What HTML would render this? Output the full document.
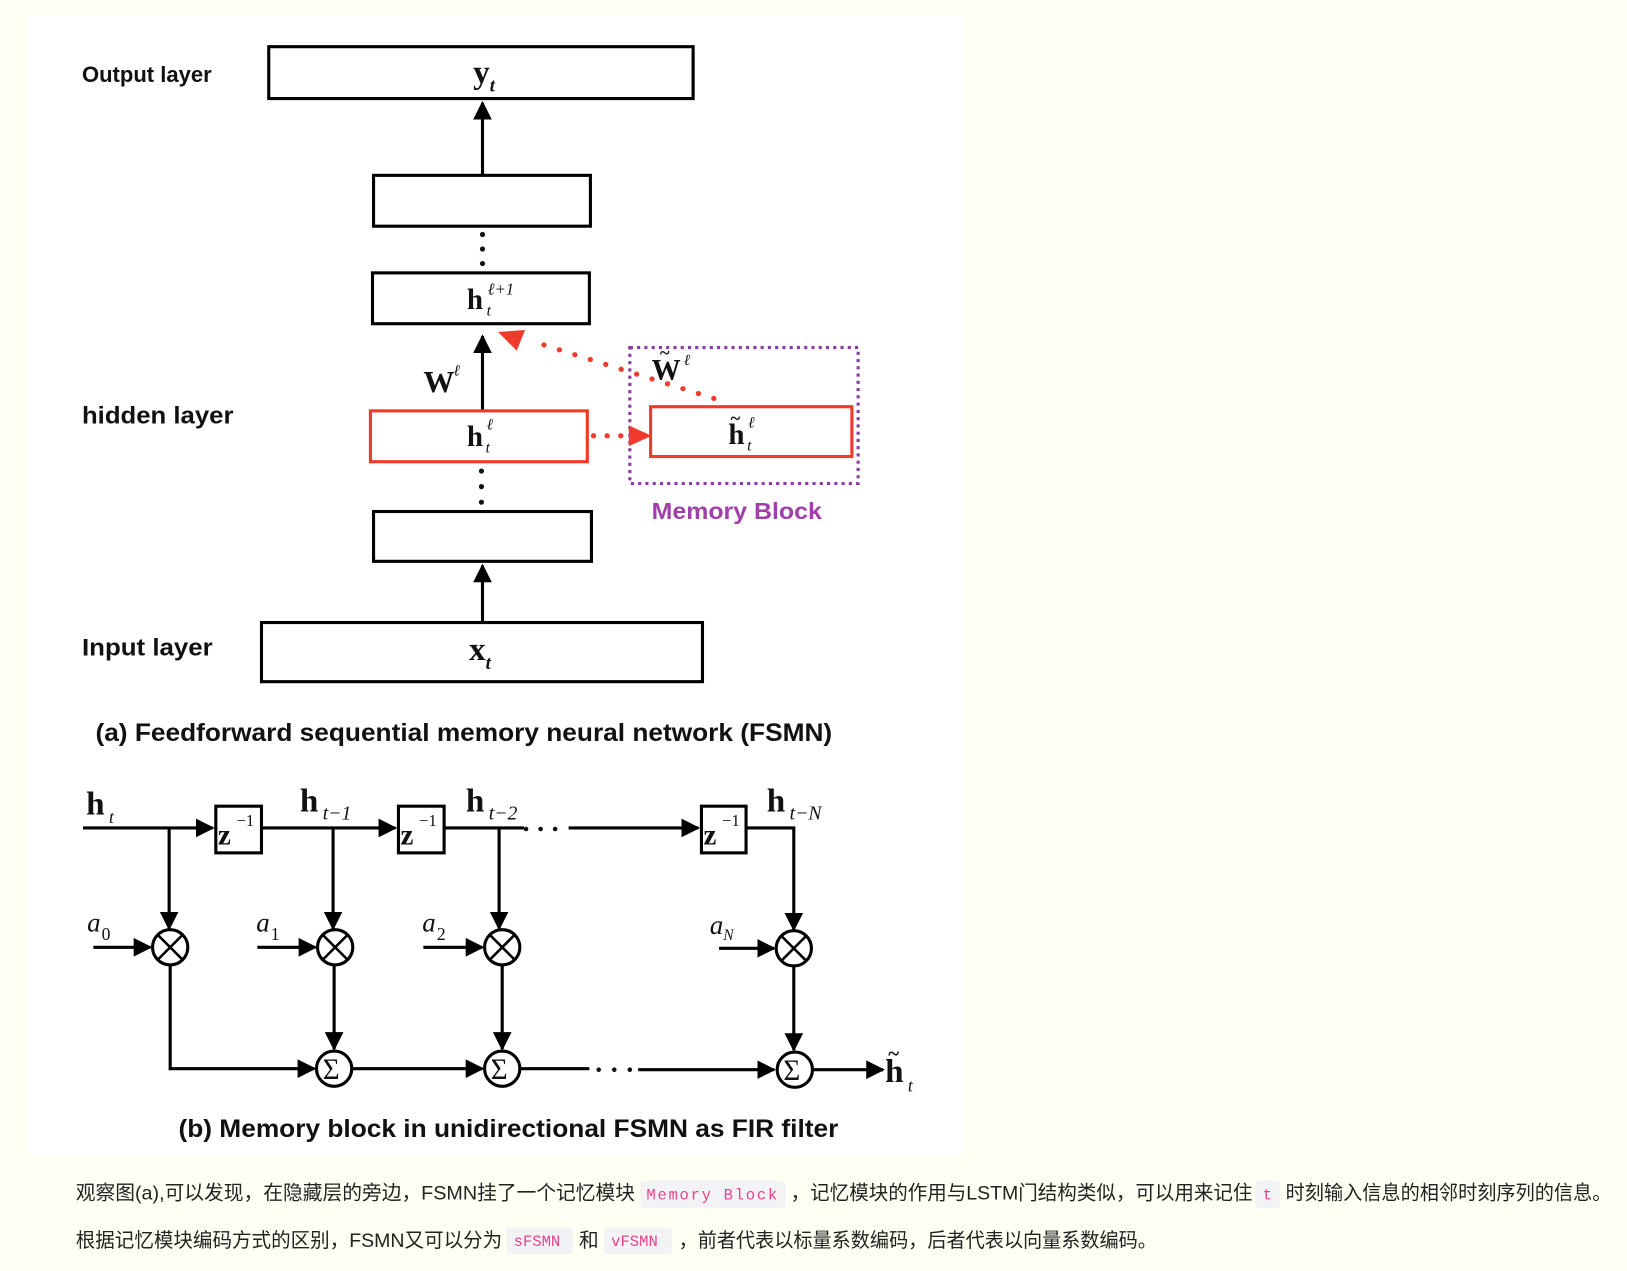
<!DOCTYPE html>
<html><head><meta charset="utf-8">
<style>
html,body{margin:0;padding:0;background:#fffff3;}
svg{display:block;}
.s{font-family:"Liberation Sans",sans-serif;font-weight:bold;fill:#111;}
.m{font-family:"Liberation Serif",serif;font-weight:bold;fill:#111;}
.i{font-family:"Liberation Serif",serif;font-style:italic;fill:#111;}
.c{font-family:"Liberation Sans","Noto Sans CJK SC",sans-serif;font-size:19px;fill:#222;}
.code{font-family:"Liberation Mono",monospace;font-size:15px;fill:#e8438c;}
</style></head><body>
<svg width="1627" height="1271" viewBox="0 0 1568 1225" preserveAspectRatio="none" xmlns="http://www.w3.org/2000/svg">
<defs>
<marker id="a" viewBox="0 0 10 10" refX="9" refY="5" markerWidth="6" markerHeight="6" orient="auto"><path d="M0,0 L10,5 L0,10 z" fill="#000"/></marker>
</defs>
<rect x="0" y="0" width="1568" height="1225" fill="#fffff3"/>
<rect x="27" y="15" width="901" height="1097" fill="#fff"/>
<g stroke="#000" stroke-width="3" fill="none">
<rect x="259" y="45" width="409" height="50"/>
<rect x="360" y="169" width="209" height="49"/>
<rect x="359" y="263" width="209" height="49"/>
<rect x="360" y="493" width="210" height="48"/>
<rect x="252" y="600" width="425" height="57"/>
<line x1="465" y1="168" x2="465" y2="99" marker-end="url(#a)"/>
<line x1="465" y1="395" x2="465" y2="324" marker-end="url(#a)"/>
<line x1="465" y1="600" x2="465" y2="545" marker-end="url(#a)"/>
</g>
<g fill="#111"><circle cx="465" cy="226" r="2.5"/><circle cx="465" cy="240" r="2.5"/><circle cx="465" cy="254" r="2.5"/>
<circle cx="464" cy="454" r="2.5"/><circle cx="464" cy="469" r="2.5"/><circle cx="464" cy="484" r="2.5"/></g>
<rect x="357" y="396" width="209" height="49" fill="none" stroke="#f03a2a" stroke-width="3"/>
<rect x="627" y="392" width="194" height="48" fill="none" stroke="#f03a2a" stroke-width="3"/>
<rect x="607" y="335" width="220" height="131" fill="none" stroke="#8a3aa0" stroke-width="3" stroke-dasharray="3,4"/>
<line x1="572" y1="420" x2="600" y2="420" stroke="#f03a2a" stroke-width="5" stroke-dasharray="0.1,13" stroke-linecap="round"/>
<path d="M606,410 L628,420 L606,430 z" fill="#f03a2a"/>
<line x1="688" y1="384" x2="510" y2="328" stroke="#f03a2a" stroke-width="5" stroke-dasharray="0.1,15.5" stroke-linecap="round"/>
<path d="M480,320 L506,318 L498,338 z" fill="#f03a2a"/>
<text class="s" x="79" y="79" font-size="21" textLength="125" lengthAdjust="spacingAndGlyphs">Output layer</text>
<text class="s" x="79" y="408" font-size="23" textLength="146" lengthAdjust="spacingAndGlyphs">hidden layer</text>
<text class="s" x="79" y="632" font-size="23" textLength="126" lengthAdjust="spacingAndGlyphs">Input layer</text>
<text class="s" x="628" y="500" font-size="22" style="fill:#a040a8" textLength="164" lengthAdjust="spacingAndGlyphs">Memory  Block</text>
<text class="m" x="456" y="80" font-size="32">y<tspan class="i" font-size="18" dy="8">t</tspan></text>
<text class="m" x="450" y="298" font-size="28">h</text><text class="i" x="470" y="284" font-size="16">ℓ+1</text><text class="i" x="469" y="304" font-size="15">t</text>
<text class="m" x="408" y="378" font-size="30">W</text><text class="i" x="437" y="362" font-size="15">ℓ</text>
<text class="m" x="450" y="430" font-size="28">h</text><text class="i" x="469" y="414" font-size="15">ℓ</text><text class="i" x="468" y="436" font-size="15">t</text>
<text class="m" x="702" y="428" font-size="28">h</text><text class="m" x="704" y="409" font-size="18">~</text><text class="i" x="721" y="412" font-size="15">ℓ</text><text class="i" x="720" y="434" font-size="15">t</text>
<text class="m" x="628" y="366" font-size="28">W</text><text class="m" x="636" y="346" font-size="18">~</text><text class="i" x="659" y="352" font-size="15">ℓ</text>
<text class="m" x="452" y="636" font-size="32">x<tspan class="i" font-size="18" dy="9">t</tspan></text>
<text class="s" x="92" y="714" font-size="24" textLength="710" lengthAdjust="spacingAndGlyphs">(a)  Feedforward sequential memory neural network (FSMN)</text>
<g stroke="#000" stroke-width="3" fill="none">
<line x1="80" y1="798" x2="205" y2="798" marker-end="url(#a)"/>
<rect x="208" y="777" width="44" height="45"/>
<line x1="252" y1="798" x2="381" y2="798" marker-end="url(#a)"/>
<rect x="384" y="777" width="44" height="45"/>
<line x1="428" y1="798" x2="505" y2="798"/>
<line x1="548" y1="798" x2="673" y2="798" marker-end="url(#a)"/>
<rect x="676" y="777" width="43" height="45"/>
<polyline points="719,798 765,798 765,896" marker-end="url(#a)"/>
<line x1="163" y1="798" x2="163" y2="895" marker-end="url(#a)"/>
<line x1="321" y1="798" x2="321" y2="895" marker-end="url(#a)"/>
<line x1="481" y1="798" x2="481" y2="895" marker-end="url(#a)"/>
<line x1="90" y1="913" x2="145" y2="913" marker-end="url(#a)"/>
<line x1="248" y1="913" x2="304" y2="913" marker-end="url(#a)"/>
<line x1="408" y1="913" x2="465" y2="913" marker-end="url(#a)"/>
<line x1="693" y1="914" x2="746" y2="914" marker-end="url(#a)"/>
<circle cx="164" cy="913" r="17"/><circle cx="323" cy="913" r="17"/><circle cx="484" cy="913" r="17"/><circle cx="765" cy="914" r="17"/>
<path d="M152,901 L176,925 M176,901 L152,925 M311,901 L335,925 M335,901 L311,925 M472,901 L496,925 M496,901 L472,925 M753,902 L777,926 M777,902 L753,926" stroke-width="2.5"/>
<line x1="322" y1="930" x2="322" y2="1011" marker-end="url(#a)"/>
<line x1="484" y1="930" x2="484" y2="1011" marker-end="url(#a)"/>
<line x1="765" y1="931" x2="765" y2="1012" marker-end="url(#a)"/>
<polyline points="164,930 164,1030 303,1030" marker-end="url(#a)"/>
<line x1="339" y1="1030" x2="465" y2="1030" marker-end="url(#a)"/>
<line x1="501" y1="1030" x2="568" y2="1030"/>
<line x1="615" y1="1031" x2="746" y2="1031" marker-end="url(#a)"/>
<line x1="783" y1="1031" x2="851" y2="1031" marker-end="url(#a)"/>
<circle cx="322" cy="1030" r="17"/><circle cx="484" cy="1030" r="17"/><circle cx="766" cy="1031" r="17"/>
</g>
<g fill="#111"><circle cx="507" cy="799" r="2.2"/><circle cx="521" cy="799" r="2.2"/><circle cx="535" cy="799" r="2.2"/>
<circle cx="577" cy="1031" r="2.2"/><circle cx="592" cy="1031" r="2.2"/><circle cx="607" cy="1031" r="2.2"/></g>
<text class="m" x="311" y="1040" font-size="28" style="font-weight:normal">Σ</text>
<text class="m" x="473" y="1040" font-size="28" style="font-weight:normal">Σ</text>
<text class="m" x="755" y="1041" font-size="28" style="font-weight:normal">Σ</text>
<text class="m" x="210" y="814" font-size="28">z</text><text class="m" x="228" y="796" font-size="16" style="font-weight:normal">−1</text>
<text class="m" x="386" y="814" font-size="28">z</text><text class="m" x="404" y="796" font-size="16" style="font-weight:normal">−1</text>
<text class="m" x="678" y="814" font-size="28">z</text><text class="m" x="696" y="796" font-size="16" style="font-weight:normal">−1</text>
<text class="m" x="83" y="785" font-size="32">h</text><text class="i" x="105" y="793" font-size="17">t</text>
<text class="m" x="289" y="782" font-size="32">h</text><text class="i" x="311" y="790" font-size="19">t−1</text>
<text class="m" x="449" y="782" font-size="32">h</text><text class="i" x="471" y="790" font-size="19">t−2</text>
<text class="m" x="739" y="782" font-size="32">h</text><text class="i" x="761" y="790" font-size="19">t−N</text>
<text class="i" x="84" y="898" font-size="26">a</text><text class="m" x="98" y="906" font-size="17" style="font-weight:normal">0</text>
<text class="i" x="247" y="898" font-size="26">a</text><text class="m" x="261" y="906" font-size="17" style="font-weight:normal">1</text>
<text class="i" x="407" y="898" font-size="26">a</text><text class="m" x="421" y="906" font-size="17" style="font-weight:normal">2</text>
<text class="i" x="684" y="900" font-size="26">a<tspan font-size="15" dy="6">N</tspan></text>
<text class="m" x="853" y="1043" font-size="32">h</text><text class="m" x="856" y="1022" font-size="20">~</text><text class="i" x="875" y="1052" font-size="17">t</text>
<text class="s" x="172" y="1096" font-size="24" textLength="636" lengthAdjust="spacingAndGlyphs">(b) Memory block in unidirectional  FSMN as FIR filter</text>
<rect x="617" y="1138" width="140" height="26" rx="3" fill="#f3f2f5"/>
<rect x="1210" y="1138" width="24" height="26" rx="3" fill="#f3f2f5"/>
<rect x="488" y="1183" width="64" height="26" rx="3" fill="#f3f2f5"/>
<rect x="582" y="1183" width="66" height="26" rx="3" fill="#f3f2f5"/>
<text class="c" x="73" y="1156" textLength="539" lengthAdjust="spacingAndGlyphs">观察图(a),可以发现，在隐藏层的旁边，FSMN挂了一个记忆模块</text>
<text class="code" x="623" y="1156" textLength="126">Memory Block</text>
<text class="c" x="762" y="1156" textLength="445" lengthAdjust="spacingAndGlyphs">，记忆模块的作用与LSTM门结构类似，可以用来记住</text>
<text class="code" x="1217" y="1156">t</text>
<text class="c" x="1239" y="1156" textLength="314" lengthAdjust="spacingAndGlyphs">时刻输入信息的相邻时刻序列的信息。</text>
<text class="c" x="73" y="1202" textLength="411" lengthAdjust="spacingAndGlyphs">根据记忆模块编码方式的区别，FSMN又可以分为</text>
<text class="code" x="495" y="1201">sFSMN</text>
<text class="c" x="558" y="1202">和</text>
<text class="code" x="589" y="1201">vFSMN</text>
<text class="c" x="654" y="1202" textLength="461" lengthAdjust="spacingAndGlyphs">，前者代表以标量系数编码，后者代表以向量系数编码。</text>
</svg>
</body></html>
